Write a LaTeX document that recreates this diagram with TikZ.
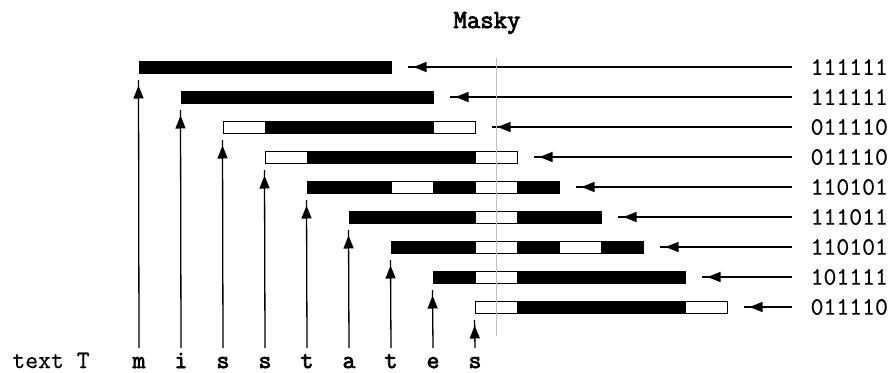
\documentclass[tikz,border=0pt]{standalone}
\usepackage{fontspec}
\usepackage{xstring}
\usetikzlibrary{positioning,arrows.meta}
\newfontfamily\plaintt{Latin Modern Mono}[FakeBold=0.6]
\newfontfamily\heavytt{Latin Modern Mono}[FakeBold=3]

\begin{document}
\begin{tikzpicture}
    [
      x=1pt, y=-1pt,
      >/.tip={Triangle[length=13pt,width=10pt] Rectangle[length=6pt,width=1.3pt]},
      line width=1.3pt,
      bit1/.style={draw, fill=black, minimum width=42pt, minimum height=12pt, inner sep=0pt, line width=1pt},
      bit0/.style={bit1, fill=white},
      my mask/.style={font=\plaintt\fontsize{25}{25}\selectfont, anchor=west, inner sep=0pt},
      my char/.style={font=\heavytt\fontsize{25}{25}\selectfont, anchor=base, inner sep=0pt}
    ]
    \useasboundingbox (0,0) rectangle (893,372);
    \node (title) [my char, font=\heavytt\fontsize{26}{26}\selectfont] at (487,28) {Masky};
    \node (text) [my char, font=\plaintt\fontsize{25}{25}\selectfont] at (51,368) {text T};
    \foreach \mask/\ch [count=\i from 0] in {111111/m,111111/i,011110/s,011110/s,110101/t,111011/a,110101/t,101111/e,011110/s}
    {
      \node (ch\i) [my char] at (139+42*\i,368) {\ch};
      \node (mask\i) [my mask] at (810,67+30*\i) {\mask};
      % one cell for each bit of the mask
      \foreach \j in {1,...,6}
      {
        \StrChar{\mask}{\j}[\bit]
        \node (c\i\j) [bit\bit] at (118+42*\i+42*\j,67+30*\i) {};
      }
      \coordinate (end\i) at ([xshift=16pt]c\i6.east);
      \draw [->, shorten <=18pt] (mask\i.west) -- (end\i);
      \draw [->] ([yshift=20pt]ch\i.base) -- ([yshift=-6pt]c\i1.south west);
    }
    \draw [black!25, line width=1pt] (496,58) -- (496,336);
  \end{tikzpicture}
\end{document}
